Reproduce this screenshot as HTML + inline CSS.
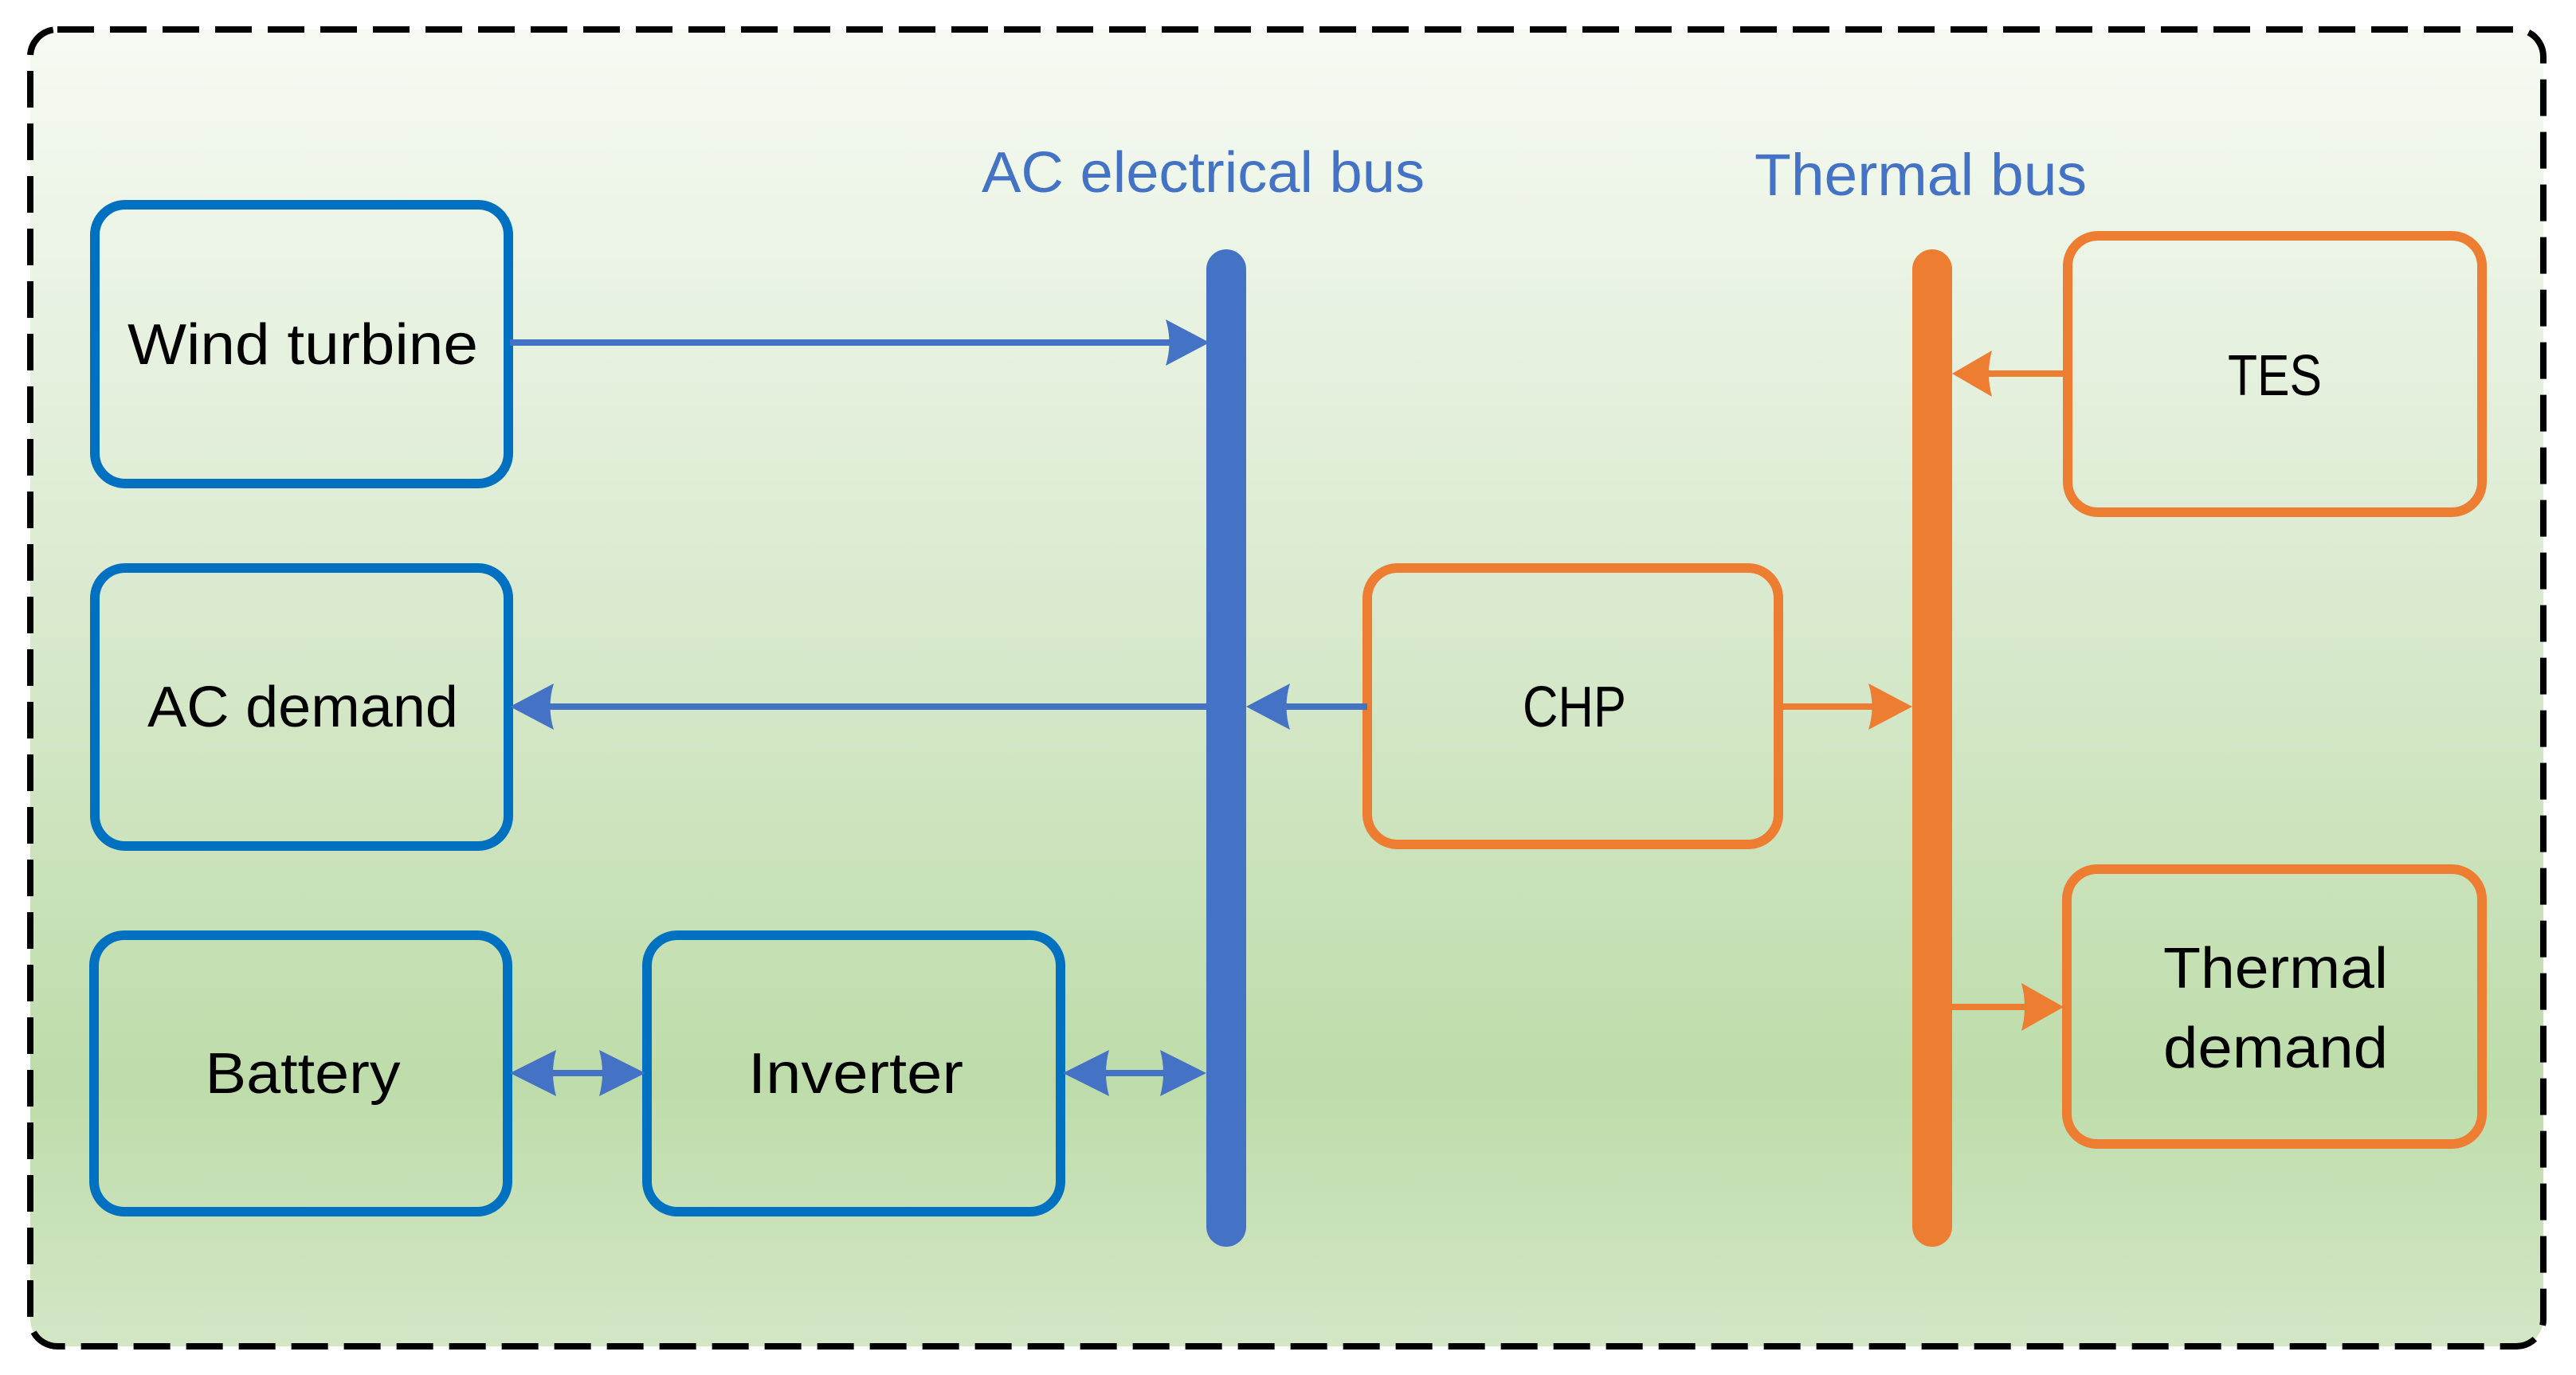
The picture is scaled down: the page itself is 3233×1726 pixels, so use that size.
<!DOCTYPE html>
<html><head><meta charset="utf-8"><style>
html,body{margin:0;padding:0;background:#fff;}
svg{display:block;}
text{font-family:"Liberation Sans",sans-serif;}
</style></head><body>
<svg width="3233" height="1726" viewBox="0 0 3233 1726" xmlns="http://www.w3.org/2000/svg">
<defs>
<linearGradient id="bg" x1="0" y1="0" x2="0" y2="1">
<stop offset="0" stop-color="#f6faf3"/>
<stop offset="0.4" stop-color="#dcebd2"/>
<stop offset="0.8" stop-color="#bedcaa"/>
<stop offset="1" stop-color="#d3e6c6"/>
</linearGradient>
</defs>
<rect x="38" y="37" width="3154" height="1653" rx="34" fill="url(#bg)" stroke="#000" stroke-width="8" stroke-dasharray="46,20"/>

<rect x="1514" y="313" width="50" height="1252" rx="25" fill="#4472c4"/>
<rect x="2400" y="313" width="50" height="1252" rx="25" fill="#ed7d31"/>

<text x="1232" y="241" font-size="72" fill="#4472c4" textLength="556" lengthAdjust="spacingAndGlyphs">AC electrical bus</text>
<text x="2202" y="245" font-size="74" fill="#4472c4" textLength="417" lengthAdjust="spacingAndGlyphs">Thermal bus</text>

<g fill="none" stroke="#0070c0" stroke-width="12">
<rect x="119" y="257" width="519" height="350" rx="38"/>
<rect x="119" y="713" width="519" height="349" rx="38"/>
<rect x="118" y="1174" width="519" height="347" rx="38"/>
<rect x="812" y="1174" width="519" height="347" rx="38"/>
</g>
<g fill="none" stroke="#ed7d31" stroke-width="12">
<rect x="1716" y="713" width="516" height="347" rx="38"/>
<rect x="2595" y="296" width="520" height="347" rx="38"/>
<rect x="2594" y="1091" width="521" height="345" rx="38"/>
</g>

<g font-size="72" fill="#000" text-anchor="middle">
<text x="380" y="457" textLength="440" lengthAdjust="spacingAndGlyphs">Wind turbine</text>
<text x="380" y="912" textLength="390" lengthAdjust="spacingAndGlyphs">AC demand</text>
<text x="380" y="1372" textLength="245" lengthAdjust="spacingAndGlyphs">Battery</text>
<text x="1074" y="1372" textLength="270" lengthAdjust="spacingAndGlyphs">Inverter</text>
<text x="1976" y="912" textLength="130" lengthAdjust="spacingAndGlyphs">CHP</text>
<text x="2855" y="496" textLength="118" lengthAdjust="spacingAndGlyphs">TES</text>
<text x="2856" y="1240" textLength="282" lengthAdjust="spacingAndGlyphs">Thermal</text>
<text x="2856" y="1340" textLength="282" lengthAdjust="spacingAndGlyphs">demand</text>
</g>

<g stroke="#4472c4" stroke-width="8" fill="none">
<line x1="640" y1="430" x2="1480" y2="430"/>
<line x1="680" y1="887" x2="1514" y2="887"/>
<line x1="1600" y1="887" x2="1716" y2="887"/>
<line x1="680" y1="1347" x2="770" y2="1347"/>
<line x1="1375" y1="1347" x2="1475" y2="1347"/>
</g>
<g fill="#4472c4">
<path d="M1518,430 L1463,401 Q1472,430 1463,459 Z"/>
<path d="M640,887 L695,858 Q686,887 695,916 Z"/>
<path d="M1564,887 L1619,858 Q1610,887 1619,916 Z"/>
<path d="M640,1347 L698,1318 Q690,1347 698,1376 Z"/>
<path d="M810,1347 L752,1318 Q760,1347 752,1376 Z"/>
<path d="M1334,1347 L1392,1318 Q1384,1347 1392,1376 Z"/>
<path d="M1514,1347 L1456,1318 Q1464,1347 1456,1376 Z"/>
</g>

<g stroke="#ed7d31" stroke-width="8" fill="none">
<line x1="2232" y1="887" x2="2360" y2="887"/>
<line x1="2490" y1="469" x2="2595" y2="469"/>
<line x1="2450" y1="1264" x2="2550" y2="1264"/>
</g>
<g fill="#ed7d31">
<path d="M2400,887 L2345,858 Q2354,887 2345,916 Z"/>
<path d="M2450,469 L2500,440 Q2492,469 2500,498 Z"/>
<path d="M2590,1264 L2537,1234 Q2545,1264 2537,1294 Z"/>
</g>
</svg>
</body></html>
